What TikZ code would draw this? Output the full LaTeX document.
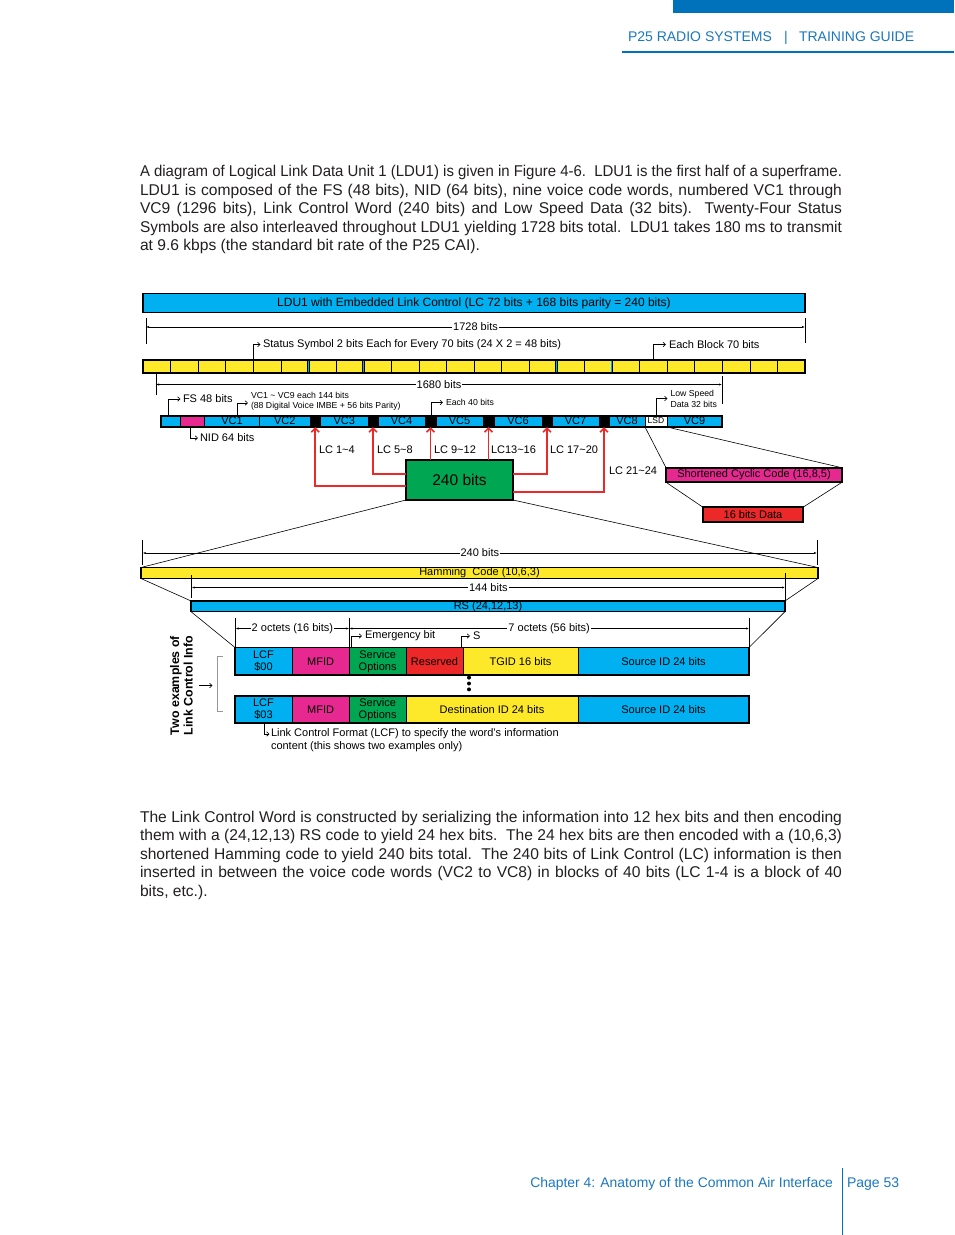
\documentclass[tikz,border=0pt]{standalone}
\usepackage{fontspec}
\usepackage{graphicx}
\setmainfont{Liberation Sans}
\usetikzlibrary{arrows.meta}
\definecolor{cyanB}{RGB}{0,176,240}
\definecolor{yelB}{RGB}{253,233,42}
\definecolor{magB}{RGB}{232,40,145}
\definecolor{grnB}{RGB}{0,166,81}
\definecolor{redB}{RGB}{237,40,40}
\definecolor{hdrB}{RGB}{0,114,188}
\definecolor{hdrT}{RGB}{28,120,190}
\definecolor{ink}{RGB}{35,31,32}
\definecolor{brk}{RGB}{150,150,150}
\newcommand{\fsz}[2]{\fontsize{#1}{#2}\selectfont}
\newsavebox\jbox
\newcommand\jline[1]{\sbox\jbox{#1}\ifdim\wd\jbox>702pt\relax\resizebox{702pt}{\height}{\usebox\jbox}\else\makebox[702pt][s]{#1}\fi}
\newcommand\boxcell[7]{\node[cellbox,fill=#6,minimum width={(#4-#2)*1pt},minimum height={(#5-#3)*1pt}] (#1) at ({(#2+#4)/2},{(#3+#5)/2}) {#7};}
\newcommand\frm[6]{\node[frame,line width=#6,minimum width={(#4-#2)*1pt},minimum height={(#5-#3)*1pt}] (#1) at ({(#2+#4)/2},{(#3+#5)/2}) {};}
\begin{document}
\begin{tikzpicture}[x=1pt,y=-1pt,
  cellbox/.style={draw=black,line width=0.6pt,inner sep=0pt,outer sep=0pt,text=black,font=\fsz{11}{12},align=center},
  frame/.style={draw=black,inner sep=0pt,outer sep=0pt},
  lbl/.style={inner sep=0pt,outer sep=0pt,font=\fsz{11}{12.5},text=black},
  small/.style={inner sep=0pt,outer sep=0pt,font=\fsz{8.7}{10.5},text=black},
  body/.style={inner sep=0pt,outer sep=0pt,font=\fsz{15.6}{18.7},text=ink},
  hdr/.style={inner sep=0pt,outer sep=0pt,font=\fsz{14}{16},text=hdrT},
  dimln/.style={line width=0.6pt,{Latex[length=3pt,width=2.2pt]}-{Latex[length=3pt,width=2.2pt]}},
  dimtxt/.style={fill=white,inner sep=1pt,font=\fsz{11}{12},text=black},
  tick/.style={line width=0.6pt},
  hook/.style={line width=0.6pt,-{Straight Barb[length=2.5pt,width=4.5pt]}},
  redln/.style={draw=redB,line width=1.6pt,-{Straight Barb[length=4pt,width=8pt]}},
  thinln/.style={line width=0.6pt}
]
\useasboundingbox[fill=white] (0,0) rectangle (954,1235);

% ---------- header / footer
\fill[hdrB] (673,0) rectangle (954,13);
\draw[hdrB,line width=1.3pt] (622,52) -- (954,52);
\node[hdr,anchor=base west] (h1) at (628,41) {P25 RADIO SYSTEMS};
\node[hdr,anchor=base] (h2) at (786,41) {|};
\node[hdr,anchor=base west] (h3) at (799,41) {TRAINING GUIDE};
\node[hdr,anchor=base east,font=\fsz{13.9}{16}] (f1) at (833,1187.5) {Chapter 4: Anatomy of the Common Air Interface};
\node[hdr,anchor=base west] (f2) at (847,1187.5) {Page 53};
\draw[hdrB,line width=1pt] (842,1168) -- (842,1235);

% ---------- body text
\node[body,anchor=base west] (p1a) at (140,176.5) {\jline{A diagram of Logical Link Data Unit 1 (LDU1) is given in Figure 4-6.\ \ LDU1 is the first half of a superframe.}};
\node[body,anchor=base west] (p1b) at (140,195.1) {\jline{LDU1 is composed of the FS (48 bits), NID (64 bits), nine voice code words, numbered VC1 through}};
\node[body,anchor=base west] (p1c) at (140,213.7) {\jline{VC9 (1296 bits), Link Control Word (240 bits) and Low Speed Data (32 bits).\ \ Twenty-Four Status}};
\node[body,anchor=base west] (p1d) at (140,232.3) {\jline{Symbols are also interleaved throughout LDU1 yielding 1728 bits total.\ \ LDU1 takes 180 ms to transmit}};
\node[body,anchor=base west] (p1e) at (140,250.9) {at 9.6 kbps (the standard bit rate of the P25 CAI).};

\node[body,anchor=base west] (p2a) at (140,822) {\jline{The Link Control Word is constructed by serializing the information into 12 hex bits and then encoding}};
\node[body,anchor=base west] (p2b) at (140,840.6) {\jline{them with a (24,12,13) RS code to yield 24 hex bits.\ \ The 24 hex bits are then encoded with a (10,6,3)}};
\node[body,anchor=base west] (p2c) at (140,859.2) {\jline{shortened Hamming code to yield 240 bits total.\ \ The 240 bits of Link Control (LC) information is then}};
\node[body,anchor=base west] (p2d) at (140,877.8) {\jline{inserted in between the voice code words (VC2 to VC8) in blocks of 40 bits (LC 1-4 is a block of 40}};
\node[body,anchor=base west] (p2e) at (140,896.4) {bits, etc.).};

% ---------- top bar
\node[frame,line width=1.8pt,fill=cyanB,minimum width=662pt,minimum height=19pt,font=\fsz{12}{13}] (ldu) at (474,303) {LDU1 with Embedded Link Control (LC 72 bits + 168 bits parity = 240 bits)};

% 1728 bits
\coordinate (t1a) at (146,318); \coordinate (t1b) at (146,344);
\coordinate (t2a) at (805,318); \coordinate (t2b) at (805,343);
\draw[tick] (t1a) -- (t1b); \draw[tick] (t2a) -- (t2b);
\coordinate (d1l) at (146,327); \coordinate (d1r) at (805,327);
\draw[dimln] (d1l) -- node[dimtxt] (d1t) {1728 bits} (d1r);

% status symbol / block labels
\node[lbl,anchor=west] (stl) at (263,344.5) {Status Symbol 2 bits Each for Every 70 bits (24 X 2 = 48 bits)};
\node[lbl,anchor=west] (ebl) at (669,344.5) {Each Block 70 bits};

% yellow status row
\foreach \i in {0,...,23}{
  \node[cellbox,fill=yelB,minimum width=27.583pt,minimum height=13pt] (y\i) at ({143+27.583*(\i+0.5)},366.5) {};
}
\foreach \i in {5,7,14,16}{
  \draw[line width=2.6pt] (y\i.north east) -- (y\i.south east);
  \draw[cyanB,line width=1.1pt] ([yshift=-1pt]y\i.north east) -- ([yshift=1pt]y\i.south east);
}
\node[frame,line width=1.8pt,minimum width=662pt,minimum height=13pt] (yrow) at (474,366.5) {};
\coordinate (sth) at (253.5,360);
\coordinate (ebh) at (653.5,360);
\draw[hook] (sth) |- ([xshift=-2.5pt]stl.west);
\draw[hook] (ebh) |- ([xshift=-3pt]ebl.west);

% 1680 bits
\coordinate (t3a) at (156,373); \coordinate (t3b) at (156,395);
\coordinate (t4a) at (722,376); \coordinate (t4b) at (722,404);
\draw[tick] (t3a) -- (t3b); \draw[tick] (t4a) -- (t4b);
\coordinate (d2l) at (156,384.5); \coordinate (d2r) at (722,384.5);
\draw[dimln] (d2l) -- node[dimtxt] (d2t) {1680 bits} (d2r);

% VC row
\boxcell{fs}{161}{416}{180.5}{427}{cyanB}{}
\boxcell{nid}{180.5}{416}{204.5}{427}{magB}{}
\boxcell{vc1}{204.5}{416}{259.5}{427}{cyanB}{\raisebox{0.8pt}{VC1}}
\boxcell{vc2}{259.5}{416}{310}{427}{cyanB}{\raisebox{0.8pt}{VC2}}
\boxcell{lcb1}{310}{416}{320.5}{427}{black}{}
\boxcell{vc3}{320.5}{416}{368}{427}{cyanB}{\raisebox{0.8pt}{VC3}}
\boxcell{lcb2}{368}{416}{378}{427}{black}{}
\boxcell{vc4}{378}{416}{425}{427}{cyanB}{\raisebox{0.8pt}{VC4}}
\boxcell{lcb3}{425}{416}{436}{427}{black}{}
\boxcell{vc5}{436}{416}{483}{427}{cyanB}{\raisebox{0.8pt}{VC5}}
\boxcell{lcb4}{483}{416}{494}{427}{black}{}
\boxcell{vc6}{494}{416}{542}{427}{cyanB}{\raisebox{0.8pt}{VC6}}
\boxcell{lcb5}{542}{416}{552}{427}{black}{}
\boxcell{vc7}{552}{416}{599}{427}{cyanB}{\raisebox{0.8pt}{VC7}}
\boxcell{lcb6}{599}{416}{609}{427}{black}{}
\boxcell{vc8}{609}{416}{645}{427}{cyanB}{\raisebox{0.8pt}{VC8}}
\boxcell{lsd}{645}{416}{667}{427}{white}{\fsz{8.5}{9}\raisebox{1pt}{LSD}}
\boxcell{vc9}{667}{416}{722}{427}{cyanB}{\raisebox{0.8pt}{VC9}}
\frm{vcrow}{161}{416}{722}{427}{1.8pt}

% labels above / below VC row
\node[lbl,anchor=west] (fsl) at (183,399) {FS 48 bits};
\coordinate (fsh) at (168.5,416);
\draw[hook] (fsh) |- ([xshift=-2.5pt]fsl.west);
\node[small,anchor=west,align=left,font=\fsz{8.7}{10.2}] (vcl) at (251,401) {VC1 \textasciitilde{} VC9 each 144 bits\\(88 Digital Voice IMBE + 56 bits Parity)};
\coordinate (vch) at (237,416);
\draw[hook] (vch) |- ([xshift=-3pt,yshift=-2pt]vcl.west);
\node[small,anchor=west] (e40l) at (446,402.5) {Each 40 bits};
\coordinate (e40h) at (431.5,416);
\draw[hook] (e40h) |- ([xshift=-3pt]e40l.west);
\node[small,anchor=west,align=left,font=\fsz{8.7}{11}] (lsl) at (670.5,398.5) {Low Speed\\Data 32 bits};
\coordinate (lsh) at (656.5,416);
\draw[hook] (lsh) |- ([xshift=-3pt]lsl.west);
\node[lbl,anchor=west] (nidl) at (200,438) {NID 64 bits};
\coordinate (nidh) at (190,427);
\draw[hook] (nidh) |- ([xshift=-2pt]nidl.west);

% 240 bits box and LC lines
\node[frame,line width=2.2pt,fill=grnB,minimum width=107pt,minimum height=40pt,font=\fsz{15.5}{17}] (g240) at (459.5,480) {240 bits};
\node[lbl,anchor=west] (lc1) at (319,449.5) {LC 1\textasciitilde4};
\node[lbl,anchor=west] (lc2) at (377,449.5) {LC 5\textasciitilde8};
\node[lbl,anchor=west] (lc3) at (434,449.5) {LC 9\textasciitilde12};
\node[lbl,anchor=west] (lc4) at (491,449.5) {LC13\textasciitilde16};
\node[lbl,anchor=west] (lc5) at (550,449.5) {LC 17\textasciitilde20};
\node[lbl,anchor=west] (lc6) at (609,471) {LC 21\textasciitilde24};
\draw[redln] ([yshift=-6pt]g240.west) -| (lcb1.south);
\draw[redln] ([yshift=6pt]g240.west) -| (lcb2.south);
\draw[redln] (g240.north -| lcb3.south) -- (lcb3.south);
\draw[redln] (g240.north -| lcb4.south) -- (lcb4.south);
\draw[redln] ([yshift=6pt]g240.east) -| (lcb5.south);
\draw[redln] ([yshift=-12pt]g240.east) -| (lcb6.south);

% LSD expansion
\node[frame,line width=1.6pt,fill=magB,minimum width=176pt,minimum height=14.5pt,font=\fsz{11}{12}] (scc) at (754,475) {Shortened Cyclic Code (16,8,5)};
\node[frame,line width=1.6pt,fill=redB,minimum width=100pt,minimum height=14.5pt,font=\fsz{11}{12}] (b16) at (753,514.5) {16 bits Data};
\draw[thinln] (lsd.south west) -- (scc.north west);
\draw[thinln] (lsd.south east) -- (scc.north east);
\draw[thinln] (scc.south west) -- (b16.north west);
\draw[thinln] (scc.south east) -- (b16.north east);

% 240 bits dimension + Hamming row
\node[frame,line width=1.6pt,fill=yelB,minimum width=677pt,minimum height=11pt,font=\fsz{11}{11}] (ham) at (479.5,573) {\raisebox{0.5pt}{Hamming\ \ Code (10,6,3)}};
\coordinate (t5a) at (142.7,540); \coordinate (t5b) at (142.7,565);
\coordinate (t6a) at (817,540); \coordinate (t6b) at (817,565);
\draw[tick] (t5a) -- (t5b); \draw[tick] (t6a) -- (t6b);
\draw[thinln] (g240.south west) -- (ham.north west);
\draw[thinln] (g240.south east) -- (ham.north east);
\coordinate (d3l) at (142.7,553); \coordinate (d3r) at (817,553);
\draw[dimln] (d3l) -- node[dimtxt] (d3t) {240 bits} (d3r);

% 144 bits + RS row
\node[frame,line width=1.6pt,fill=cyanB,minimum width=594pt,minimum height=10.7pt,font=\fsz{11}{11}] (rs) at (488,606.3) {\raisebox{0.5pt}{RS (24,12,13)}};
\coordinate (t7a) at (191.7,575); \coordinate (t7b) at (191.7,598);
\coordinate (t8a) at (785,573); \coordinate (t8b) at (785,600);
\draw[tick] (t7a) -- (t7b); \draw[tick] (t8a) -- (t8b);
\coordinate (d4l) at (191.7,587.5); \coordinate (d4r) at (785,587.5);
\draw[dimln] (d4l) -- node[dimtxt] (d4t) {144 bits} (d4r);
\draw[thinln] (ham.south west) -- (rs.north west);
\draw[thinln] (ham.south east) -- (rs.north east);

% Link control rows
\boxcell{lcf1}{235}{647.5}{292}{675}{cyanB}{LCF\\\$00}
\boxcell{mf1}{292}{647.5}{349.3}{675}{magB}{MFID}
\boxcell{so1}{349.3}{647.5}{406}{675}{grnB}{Service\\Options}
\boxcell{res1}{406}{647.5}{463}{675}{redB}{Reserved}
\boxcell{tg1}{463}{647.5}{578}{675}{yelB}{TGID 16 bits}
\boxcell{src1}{578}{647.5}{749}{675}{cyanB}{Source ID 24 bits}
\frm{row1}{235}{647.5}{749}{675}{1.8pt}
\boxcell{lcf2}{235}{695.7}{292}{723}{cyanB}{LCF\\\$03}
\boxcell{mf2}{292}{695.7}{349.3}{723}{magB}{MFID}
\boxcell{so2}{349.3}{695.7}{406}{723}{grnB}{Service\\Options}
\boxcell{dst2}{406}{695.7}{578}{723}{yelB}{Destination ID 24 bits}
\boxcell{src2}{578}{695.7}{749}{723}{cyanB}{Source ID 24 bits}
\frm{row2}{235}{695.7}{749}{723}{1.8pt}
\draw[thinln] (rs.south west) -- (lcf1.north west);
\draw[thinln] (rs.south east) -- (src1.north east);

% octets dimensions
\coordinate (t9a) at (235.5,618); \coordinate (t9b) at (235.5,647.5);
\coordinate (t10a) at (349.3,618); \coordinate (t10b) at (349.3,647.5);
\coordinate (t11a) at (749,618); \coordinate (t11b) at (749,647.5);
\draw[tick] (t9a) -- (t9b); \draw[tick] (t10a) -- (t10b); \draw[tick] (t11a) -- (t11b);
\coordinate (d5l) at (235.5,628.5); \coordinate (d5m) at (349.3,628.5); \coordinate (d5r) at (749,628.5);
\draw[dimln] (d5l) -- node[dimtxt] (d5t) {2 octets (16 bits)} (d5m);
\draw[dimln] (d5m) -- node[dimtxt] (d6t) {7 octets (56 bits)} (d5r);

\node[lbl,anchor=west] (eml) at (365,636) {Emergency bit};
\coordinate (emh) at (351.7,647.5);
\draw[hook] (emh) |- ([xshift=-3pt]eml.west);
\node[lbl,anchor=west] (sl) at (473,636) {S};
\coordinate (sh) at (461,647.5);
\draw[hook] (sh) |- ([xshift=-3pt]sl.west);

% dots
\fill (469,677.6) circle (2pt);
\fill (469,683.5) circle (2pt);
\fill (469,689.4) circle (2pt);

% bracket and rotated label
\draw[brk,line width=1pt] (223,656) -- (217.3,656) -- (217.3,711.7) -- (223,711.7);
\coordinate (arA) at (199,685.5); \coordinate (arB) at (212.5,685.5);
\draw[hook] (arA) -- (arB);
\node[rotate=90,inner sep=0pt,align=center,font=\bfseries\fsz{12.4}{13.5},text=black] (two) at (181.5,685.5) {Two examples of\\Link Control Info};

% LCF note
\node[lbl,anchor=west] (lcfl1) at (271,734) {Link Control Format (LCF) to specify the word's information};
\node[lbl,anchor=west] (lcfl2) at (271,746.7) {content (this shows two examples only)};
\coordinate (lcfh) at (264,723);
\draw[hook] (lcfh) |- ([xshift=-1.5pt]lcfl1.west);
\end{tikzpicture}
\end{document}
